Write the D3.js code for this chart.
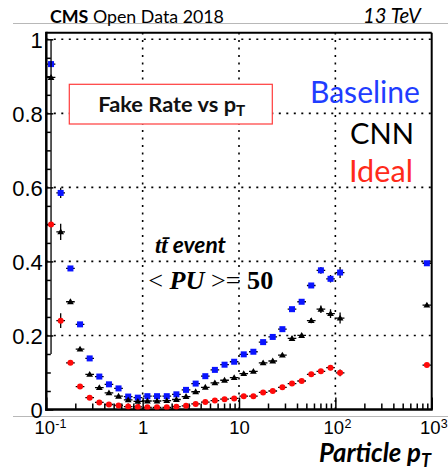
<!DOCTYPE html>
<html><head><meta charset="utf-8">
<script src="https://cdn.jsdelivr.net/npm/d3@7/dist/d3.min.js"></script>
<style>body{margin:0;background:#fff}svg{display:block}</style>
</head><body>
<script>
// ---- data ----
const pt = [0.112,0.141,0.178,0.224,0.282,0.355,0.447,0.562,0.708,0.891,
            1.12,1.41,1.78,2.24,2.82,3.55,4.47,5.62,7.08,8.91,
            11.2,14.1,17.8,22.4,28.2,35.5,44.7,56.2,70.8,89.1,112,891];
const baseline = [0.933,0.585,0.381,0.230,0.138,0.089,0.068,0.057,0.035,0.032,
                  0.036,0.036,0.036,0.041,0.053,0.070,0.090,0.107,0.121,0.129,
                  0.149,0.156,0.182,0.196,0.217,0.271,0.291,0.335,0.376,0.353,0.370,0.395];
const baselineErr = [0.008,0.014,0.006,0.005,0.004,0.003,0.003,0.003,0.003,0.003,
                     0.003,0.003,0.003,0.003,0.003,0.003,0.003,0.003,0.003,0.003,
                     0.004,0.004,0.004,0.004,0.005,0.005,0.006,0.007,0.009,0.010,0.015,0.004];
const cnn = [0.897,0.480,0.291,0.163,0.095,0.059,0.045,0.036,0.026,0.022,
             0.023,0.023,0.024,0.027,0.035,0.048,0.060,0.072,0.079,0.086,
             0.097,0.103,0.126,0.131,0.147,0.192,0.200,0.240,0.271,0.259,0.247,0.282];
const cnnErrLow = [0.747,0.022,0.006,0.005,0.004,0.003,0.003,0.003,0.003,0.003,
                   0.003,0.003,0.003,0.003,0.003,0.003,0.003,0.003,0.003,0.003,
                   0.004,0.004,0.004,0.004,0.005,0.006,0.006,0.007,0.010,0.012,0.015,0.004];
const cnnErrHigh = [0.103,0.022,0.006,0.005,0.004,0.003,0.003,0.003,0.003,0.003,
                    0.003,0.003,0.003,0.003,0.003,0.003,0.003,0.003,0.003,0.003,
                    0.004,0.004,0.004,0.004,0.005,0.006,0.006,0.007,0.010,0.012,0.015,0.004];
const ideal = [0.500,0.240,0.126,0.062,0.032,0.019,0.0135,0.011,0.008,0.007,
               0.006,0.006,0.006,0.0076,0.010,0.015,0.020,0.024,0.028,0.030,
               0.036,0.036,0.046,0.050,0.060,0.070,0.077,0.095,0.103,0.113,0.099,0.120];
const idealErr = [0.006,0.020,0.005,0.004,0.003,0.002,0.002,0.002,0.002,0.002,
                  0.002,0.002,0.002,0.002,0.002,0.002,0.002,0.002,0.002,0.002,
                  0.003,0.003,0.003,0.003,0.003,0.004,0.004,0.005,0.006,0.007,0.009,0.003];
const yMajor = [0,0.2,0.4,0.6,0.8,1];
const yTickLabels = ["0","0.2","0.4","0.6","0.8","1"];
const xMajor = [0.1,1,10,100,1000];
const xTickBase = ["10","1","10","10","10"];
const xTickExp = ["-1","","","2","3"];
const legendNames = ["Baseline","CNN","Ideal"];

// ---- layout ----
const W=448,H=470;
const svg=d3.select('body').append('svg').attr('width',W).attr('height',H);
const x=d3.scaleLog().domain([0.1,1000]).range([46.3,431.7]);
const y=d3.scaleLinear().domain([0,1]).range([409.5,39.3]);
const yTopVal = 1.018;
const X0=x(0.1), X1=x(1000), Y0=y(0), YT=y(yTopVal);
const sans="'Liberation Sans',Arial,sans-serif";
const cal="Lato,'Open Sans',sans-serif";
const serif="'Liberation Serif','DejaVu Serif',serif";

function fit(sel,target){
  const w=sel.node().getComputedTextLength();
  const fs=parseFloat(sel.attr('font-size'));
  sel.attr('font-size',fs*target/w);
  return sel;
}

// slide separator lines
svg.append('line').attr('x1',13).attr('x2',448).attr('y1',23.5).attr('y2',23.5).attr('stroke','#b8b8b8').attr('stroke-width',1);
svg.append('line').attr('x1',13).attr('x2',448).attr('y1',416.5).attr('y2',416.5).attr('stroke','#b8b8b8').attr('stroke-width',1);

// grid (dotted)
const grid=svg.append('g').attr('stroke','#000').attr('stroke-width',1.6).attr('stroke-dasharray','2,5.5');
[0.2,0.4,0.6,0.8,1].forEach(v=>grid.append('line').attr('x1',X0).attr('x2',X1).attr('y1',y(v)).attr('y2',y(v)));
[1,10,100].forEach(v=>grid.append('line').attr('x1',x(v)).attr('x2',x(v)).attr('y1',Y0).attr('y2',YT));

// x axis ticks
const xMinor=[];
for(let d=0.1; d<1000; d*=10){ for(let m=2;m<=9;m++) xMinor.push(+(d*m).toPrecision(3)); }
const gxMin=svg.append('g').attr('transform',`translate(0,${Y0})`)
  .call(d3.axisBottom(x).tickValues(xMinor).tickSize(-6).tickFormat(''));
const gx=svg.append('g').attr('transform',`translate(0,${Y0})`)
  .call(d3.axisBottom(x).tickValues(xMajor).tickSize(-12).tickFormat(''));
[gxMin,gx].forEach(g=>{g.select('.domain').remove(); g.selectAll('line').attr('stroke','#000').attr('stroke-width',1.5);});
gx.selectAll('.tick').each(function(d,i){
  const g=d3.select(this);
  const t=g.append('text').attr('y',24.5).attr('font-family',sans).attr('text-anchor','start')
    .attr('font-size',18.5).attr('fill','#000');
  t.append('tspan').text(xTickBase[i]);
  const w=t.node().getComputedTextLength();
  t.attr('x', xTickExp[i] ? -12.3 : -w/2);
  if(xTickExp[i]){
    t.append('tspan').attr('font-size',12.5).attr('dx',0.3).attr('dy',-6.5).text(xTickExp[i]);
  }
});

// y axis ticks
const yMinor=d3.range(0,1.001,0.05).map(v=>+v.toFixed(2)).filter(v=>!yMajor.includes(v));
const gyMin=svg.append('g').attr('transform',`translate(${X0},0)`)
  .call(d3.axisLeft(y).tickValues(yMinor).tickSize(-4.5).tickFormat(''));
const gy=svg.append('g').attr('transform',`translate(${X0},0)`)
  .call(d3.axisLeft(y).tickValues(yMajor).tickSize(-7).tickPadding(3.5).tickFormat((d,i)=>yTickLabels[i]));
[gyMin,gy].forEach(g=>{g.select('.domain').remove(); g.selectAll('line').attr('stroke','#000').attr('stroke-width',1.5);});
gy.selectAll('text').attr('font-family',sans).attr('font-size',22).attr('fill','#000').attr('dy','0.36em');

// frame
const fr=svg.append('g').attr('stroke','#000').attr('fill','none');
fr.append('line').attr('x1',X0).attr('x2',X1).attr('y1',YT).attr('y2',YT).attr('stroke-width',2);
fr.append('line').attr('x1',X1).attr('x2',X1).attr('y1',YT).attr('y2',Y0).attr('stroke-width',2);
fr.append('line').attr('x1',X0).attr('x2',X0).attr('y1',YT-1).attr('y2',Y0+1.2).attr('stroke-width',2.5);
fr.append('line').attr('x1',X0-1).attr('x2',X1+1).attr('y1',Y0).attr('y2',Y0).attr('stroke-width',2.5);

// clip
svg.append('clipPath').attr('id','clip').append('rect').attr('x',X0).attr('y',YT).attr('width',X1-X0).attr('height',Y0-YT);
const plot=svg.append('g').attr('clip-path','url(#clip)');

const hw=0.045;
function drawSeries(vals,lo,hi,marker,color){
  const g=plot.append('g');
  const eg=g.append('g').attr('stroke','#000').attr('stroke-width',1.3);
  vals.forEach((v,i)=>{
    eg.append('line').attr('x1',x(pt[i]*Math.pow(10,-hw))).attr('x2',x(pt[i]*Math.pow(10,hw))).attr('y1',y(v)).attr('y2',y(v));
    eg.append('line').attr('x1',x(pt[i])).attr('x2',x(pt[i])).attr('y1',y(v-lo[i])).attr('y2',y(v+hi[i]));
  });
  const mg=g.append('g').attr('fill',color);
  vals.forEach((v,i)=>{
    if(marker==='square') mg.append('rect').attr('x',x(pt[i])-3).attr('y',y(v)-3).attr('width',6).attr('height',6);
    else if(marker==='circle') mg.append('circle').attr('cx',x(pt[i])).attr('cy',y(v)).attr('r',3);
    else mg.append('path').attr('d',d3.symbol(d3.symbolTriangle,20)()).attr('transform',`translate(${x(pt[i])},${y(v)+0.5})`);
  });
}
drawSeries(baseline,baselineErr,baselineErr,'square','#0a14ff');
drawSeries(cnn,cnnErrLow,cnnErrHigh,'triangle','#000');
drawSeries(ideal,idealErr,idealErr,'circle','#ff0a0a');

// title box
svg.append('rect').attr('x',69.3).attr('y',84.3).attr('width',203).attr('height',39.7)
  .attr('fill','#fff').attr('stroke','#ff3b3b').attr('stroke-width',1.2);
const tb=svg.append('text').attr('x',98.3).attr('y',111.7).attr('font-family',cal).attr('font-weight',700)
  .attr('font-size',17).attr('fill','#111');
tb.append('tspan').text('Fake Rate vs p');
tb.append('tspan').attr('font-size','70%').attr('dy','0.3em').text('T');
fit(tb,147);

// legend texts
const legColors=['#1f3dff','#000','#ff2a1a'];
const legX=[310,350,349], legY=[103.3,144,181.7], legW=[110,64,64];
legendNames.forEach((n,i)=>{
  const t=svg.append('text').attr('x',legX[i]).attr('y',legY[i]).attr('font-family',cal)
    .attr('font-size',27).attr('fill',legColors[i]).text(n);
  fit(t,legW[i]);
});

// event annotation
const ev=svg.append('text').attr('x',155).attr('y',253.3).attr('font-size',18).attr('font-weight',700).attr('font-style','italic').attr('fill','#000');
ev.append('tspan').attr('font-family',serif).text('t\u0074\u0304');
ev.append('tspan').attr('font-family',cal).text(' event');
fit(ev,71);
const pu=svg.append('text').attr('x',148.3).attr('y',289).attr('font-size',18).attr('font-family',serif).attr('fill','#000');
pu.append('tspan').text('< ');
pu.append('tspan').attr('font-weight',700).attr('font-style','italic').text('PU');
pu.append('tspan').text(' >=  ');
pu.append('tspan').attr('font-weight',700).text('50');
fit(pu,125);

// header
const hd=svg.append('text').attr('x',50).attr('y',22.5).attr('font-family',cal).attr('font-size',17).attr('fill','#000');
hd.append('tspan').attr('font-weight',700).text('CMS');
hd.append('tspan').text(' Open Data 2018');
fit(hd,174);
const tev=svg.append('text').attr('x',363).attr('y',22.5).attr('font-family',cal).attr('font-size',17)
  .attr('font-style','italic').attr('fill','#000').text('13 TeV');
fit(tev,57.7);

// x title
const xt=svg.append('text').attr('x',319).attr('y',462).attr('font-family',cal).attr('font-size',20)
  .attr('font-weight',700).attr('font-style','italic').attr('fill','#000');
xt.append('tspan').text('Particle p');
xt.append('tspan').attr('font-size','70%').attr('dy','0.3em').text('T');
fit(xt,112);
</script>
</body></html>
